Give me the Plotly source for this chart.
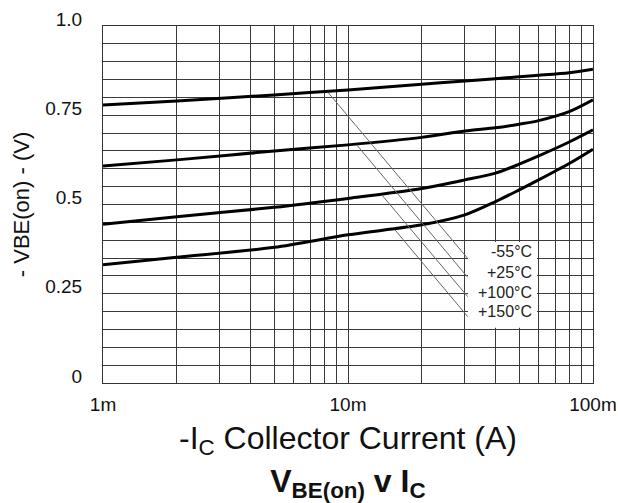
import math
import plotly.graph_objects as go

# ---- data ----
ic_ma = [1, 2, 5, 10, 20, 30, 40, 50, 60, 80, 100]
vbe_m55 = [0.779, 0.790, 0.807, 0.821, 0.837, 0.846, 0.852, 0.858, 0.862, 0.869, 0.879]
vbe_p25 = [0.608, 0.625, 0.650, 0.667, 0.688, 0.706, 0.715, 0.725, 0.735, 0.760, 0.793]
vbe_p100 = [0.445, 0.466, 0.492, 0.517, 0.545, 0.569, 0.588, 0.613, 0.636, 0.675, 0.709]
vbe_p150 = [0.331, 0.352, 0.380, 0.415, 0.443, 0.471, 0.508, 0.541, 0.569, 0.615, 0.655]

series_names = ["-55°C", "+25°C", "+100°C", "+150°C"]

leader_x_start_ma = [8.31, 10.85, 13.73, 15.55]
leader_y_start = [0.813, 0.667, 0.527, 0.429]
leader_x_end_ma = [30.8, 30.8, 30.8, 30.8]
leader_y_end = [0.349, 0.296, 0.242, 0.186]
label_y = [0.368, 0.309, 0.254, 0.200]
label_x_ma = 57.4
label_box_x_ma = [30.9, 59.1]
label_box_y = [0.155, 0.395]

x_tick_ma = [1, 10, 100]
x_tick_text = ["1m", "10m", "100m"]
x_grid_ma = [1, 2, 3, 4, 5, 6, 7, 8, 9, 10, 20, 30, 40, 50, 60, 70, 80, 90, 100]
y_tick_vals = [0, 0.25, 0.5, 0.75, 1.0]
y_tick_text = ["0", "0.25", "0.5", "0.75", "1.0"]
y_grid = [round(i * 0.05, 2) for i in range(21)]

FONT = "Liberation Sans, Arial, sans-serif"
GRID = "#3a3a3a"

fig = go.Figure()

x_a = [v / 1000 for v in ic_ma]
for name, ys in zip(series_names, [vbe_m55, vbe_p25, vbe_p100, vbe_p150]):
    fig.add_trace(go.Scatter(
        x=x_a, y=ys, mode="lines", name=name,
        line=dict(color="black", width=3, shape="spline", smoothing=0.8),
        showlegend=False, hoverinfo="skip",
    ))

for xs, ys, xe, ye in zip(leader_x_start_ma, leader_y_start, leader_x_end_ma, leader_y_end):
    fig.add_trace(go.Scatter(
        x=[xs / 1000, xe / 1000], y=[ys, ye], mode="lines",
        line=dict(color="#666666", width=1), showlegend=False, hoverinfo="skip",
    ))

# white background box behind the temperature labels
fig.add_shape(type="rect", xref="x", yref="y",
              x0=label_box_x_ma[0] / 1000, x1=label_box_x_ma[1] / 1000,
              y0=label_box_y[0], y1=label_box_y[1],
              fillcolor="white", line=dict(width=0), layer="above")

for name, ly in zip(series_names, label_y):
    fig.add_annotation(x=math.log10(label_x_ma / 1000), y=ly, xref="x", yref="y",
                       text=name, showarrow=False, xanchor="right", yanchor="middle",
                       font=dict(family=FONT, size=16, color="#222"))

fig.update_layout(
    width=618, height=503,
    margin=dict(l=103, r=25, t=26, b=120),
    paper_bgcolor="white", plot_bgcolor="white",
    font=dict(family=FONT, color="#111"),
    title=dict(text="<b>V<sub>BE(on)</sub> v I<sub>C</sub></b>",
               font=dict(family=FONT, size=32, color="#111"),
               x=0.563, xanchor="center", y=0.045, yanchor="middle", yref="container"),
)

fig.update_xaxes(
    type="log", range=[-3.0001, -0.9999], automargin=False,
    tickvals=[v / 1000 for v in x_tick_ma], ticktext=x_tick_text,
    showgrid=True, gridcolor=GRID, gridwidth=1,
    minor=dict(tickvals=[v / 1000 for v in x_grid_ma], showgrid=True,
               gridcolor=GRID, gridwidth=1, ticks=""),
    showline=True, linecolor="#333", linewidth=1, mirror=True,
    ticks="", tickfont=dict(family=FONT, size=19, color="#111"),
    ticklabelstandoff=4, ticklabeloverflow="allow",
    zeroline=False,
    title=dict(text="-I<sub>C</sub> Collector Current (A)",
               font=dict(family=FONT, size=32, color="#111"), standoff=12),
)
fig.update_yaxes(
    range=[0, 1], automargin=False,
    tickvals=y_tick_vals, ticktext=y_tick_text,
    showgrid=True, gridcolor=GRID, gridwidth=1,
    minor=dict(tickvals=y_grid, showgrid=True, gridcolor=GRID, gridwidth=1, ticks=""),
    showline=True, linecolor="#333", linewidth=1, mirror=True,
    ticks="", tickfont=dict(family=FONT, size=19, color="#111"),
    ticklabelstandoff=16, ticklabelshift=-7, ticklabeloverflow="allow",
    zeroline=False,
    title=dict(text="- VBE(on) - (V)", font=dict(family=FONT, size=22, color="#111"),
               standoff=9),
)

fig.write_html("out.html")
